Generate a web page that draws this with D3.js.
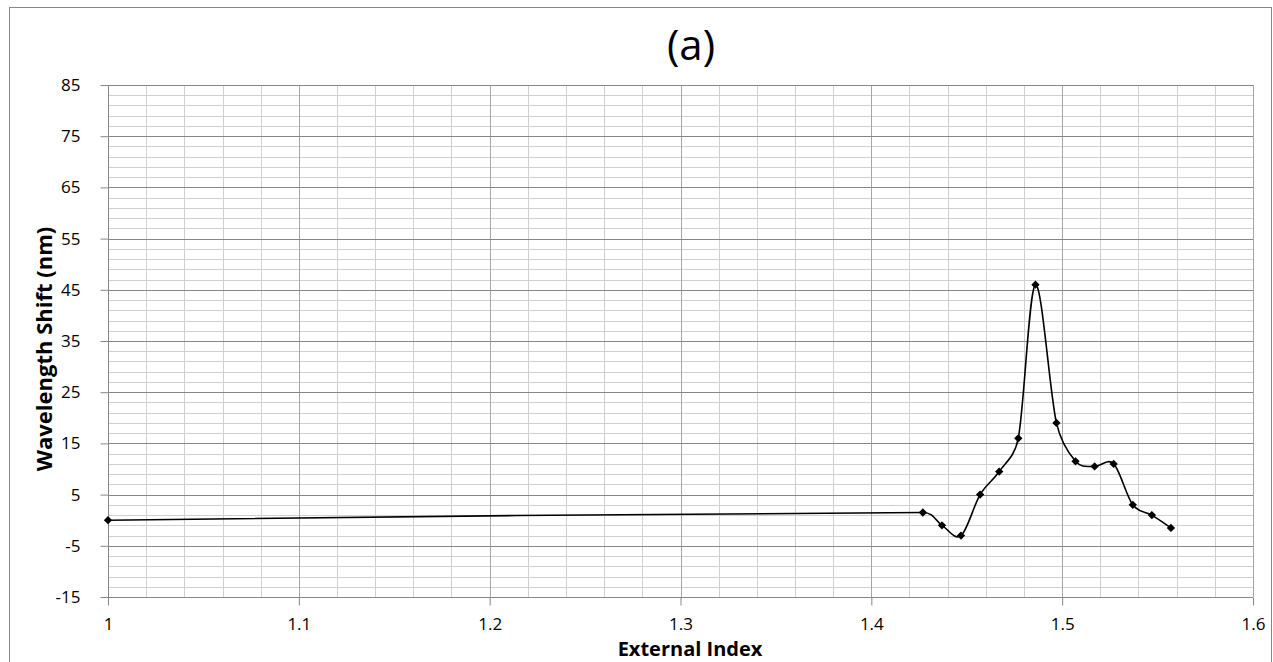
<!DOCTYPE html>
<html>
<head>
<meta charset="utf-8">
<script src="https://cdn.jsdelivr.net/npm/d3@7"></script>
<style>
  body { margin: 0; background: #fff; }
  svg { display: block; font-family: "Open Sans", Lato, sans-serif; }
</style>
</head>
<body>
<svg id="chart" width="1273" height="662"></svg>
<script>
// data
const externalIndex = [1.0, 1.427, 1.437, 1.447, 1.457, 1.467, 1.477, 1.486, 1.497, 1.507, 1.517, 1.527, 1.537, 1.547, 1.557]
const wavelengthShift = [0, 1.5, -1, -3, 5, 9.5, 16, 46, 19, 11.5, 10.5, 11, 3, 1, -1.5]
const xTicks = [1, 1.1, 1.2, 1.3, 1.4, 1.5, 1.6]
const yTicks = [-15, -5, 5, 15, 25, 35, 45, 55, 65, 75, 85]

const params = {
    left: 108, right: 1253, top: 85, bottom: 597,
    major: "#878787", minor: "#d0d0d0"
}

const svg = d3.select("#chart")

// outer chart border
svg.append("rect")
    .attr("x", 9.5).attr("y", 7.5)
    .attr("width", 1262).attr("height", 700)
    .attr("fill", "white")
    .attr("stroke", "#868686")
    .attr("stroke-width", 1)

const x = d3.scaleLinear().domain([1, 1.6]).range([params.left, params.right])
const y = d3.scaleLinear().domain([-15, 85]).range([params.bottom, params.top])

const grid = svg.append("g")

// minor grid
const xMinor = d3.range(0, 31).map(i => 1 + i * 0.02)
const yMinor = d3.range(0, 51).map(i => -15 + i * 2)
grid.selectAll(".vminor").data(xMinor).join("line")
    .attr("x1", d => Math.round(x(d)) + 0.5).attr("x2", d => Math.round(x(d)) + 0.5)
    .attr("y1", params.top).attr("y2", params.bottom)
    .attr("stroke", params.minor)
grid.selectAll(".hminor").data(yMinor).join("line")
    .attr("x1", params.left).attr("x2", params.right)
    .attr("y1", d => Math.round(y(d)) + 0.5).attr("y2", d => Math.round(y(d)) + 0.5)
    .attr("stroke", params.minor)

// major grid
grid.selectAll(".vmajor").data(xTicks).join("line")
    .attr("x1", d => Math.round(x(d)) + 0.5).attr("x2", d => Math.round(x(d)) + 0.5)
    .attr("y1", params.top).attr("y2", params.bottom)
    .attr("stroke", "#a6a6a6")
grid.selectAll(".hmajor").data(yTicks).join("line")
    .attr("x1", params.left).attr("x2", params.right)
    .attr("y1", d => Math.round(y(d)) + 0.5).attr("y2", d => Math.round(y(d)) + 0.5)
    .attr("stroke", params.major)

// axes
const yAxis = svg.append("g")
    .attr("transform", "translate(" + (params.left + 0.5) + ",0)")
    .call(d3.axisLeft(y).tickValues(yTicks).tickSize(8).tickPadding(20).tickFormat(d => String(d)))
const xAxis = svg.append("g")
    .attr("transform", "translate(0," + (params.bottom + 0.5) + ")")
    .call(d3.axisBottom(x).tickValues(xTicks).tickSize(8).tickPadding(12).tickFormat(d => d === 1 ? "1" : d3.format(".1f")(d)))

;[xAxis, yAxis].forEach(a => {
    a.select(".domain").attr("stroke", params.major)
    a.selectAll(".tick line").attr("stroke", params.major)
    a.selectAll("text").attr("font-size", 17).attr("fill", "#000").attr("font-family", "'Open Sans', sans-serif")
})
xAxis.select(".domain").attr("d", "M" + params.left + ",0H" + params.right)
yAxis.select(".domain").attr("d", "M0," + params.top + "V" + params.bottom)

// Excel-style smoothed line: cubic beziers, tangents clamped on uneven spacing
function smoothPath(p){
    const path = d3.path()
    path.moveTo(p[0][0], p[0][1])
    const dist = (a, b) => Math.hypot(b[0]-a[0], b[1]-a[1])
    for (let i = 0; i < p.length - 1; i++){
        const p0 = p[Math.max(i-1, 0)], p1 = p[i], p2 = p[i+1], p3 = p[Math.min(i+2, p.length-1)]
        const seg = dist(p1, p2)
        const l1 = dist(p0, p2) || 1, l2 = dist(p1, p3) || 1
        const f1 = Math.min(1/6, 0.5*seg/l1), f2 = Math.min(1/6, 0.5*seg/l2)
        path.bezierCurveTo(
            p1[0] + (p2[0]-p0[0])*f1, p1[1] + (p2[1]-p0[1])*f1,
            p2[0] - (p3[0]-p1[0])*f2, p2[1] - (p3[1]-p1[1])*f2,
            p2[0], p2[1])
    }
    return path.toString()
}

const pts = externalIndex.map((d, i) => [d, wavelengthShift[i]])
const pix = pts.map(d => [x(d[0]), y(d[1])])

svg.append("path")
    .attr("d", smoothPath(pix))
    .attr("fill", "none")
    .attr("stroke", "#000")
    .attr("stroke-width", 1.6)

const diamond = d3.symbol().type(d3.symbolDiamond2).size(44)
svg.selectAll(".pt").data(pts).join("path")
    .attr("transform", d => "translate(" + x(d[0]) + "," + y(d[1]) + ")")
    .attr("d", diamond)
    .attr("fill", "#000")

// titles
svg.append("text")
    .attr("x", 691).attr("y", 60)
    .attr("text-anchor", "middle")
    .attr("font-size", 42)
    .text("(a)")

svg.append("text")
    .attr("x", 690).attr("y", 656)
    .attr("text-anchor", "middle")
    .attr("font-size", 20).attr("font-weight", "bold")
    .text("External Index")

svg.append("text")
    .attr("transform", "translate(52,349) rotate(-90)")
    .attr("text-anchor", "middle")
    .attr("font-size", 22).attr("font-weight", "bold")
    .text("Wavelength Shift (nm)")
</script>
</body>
</html>
